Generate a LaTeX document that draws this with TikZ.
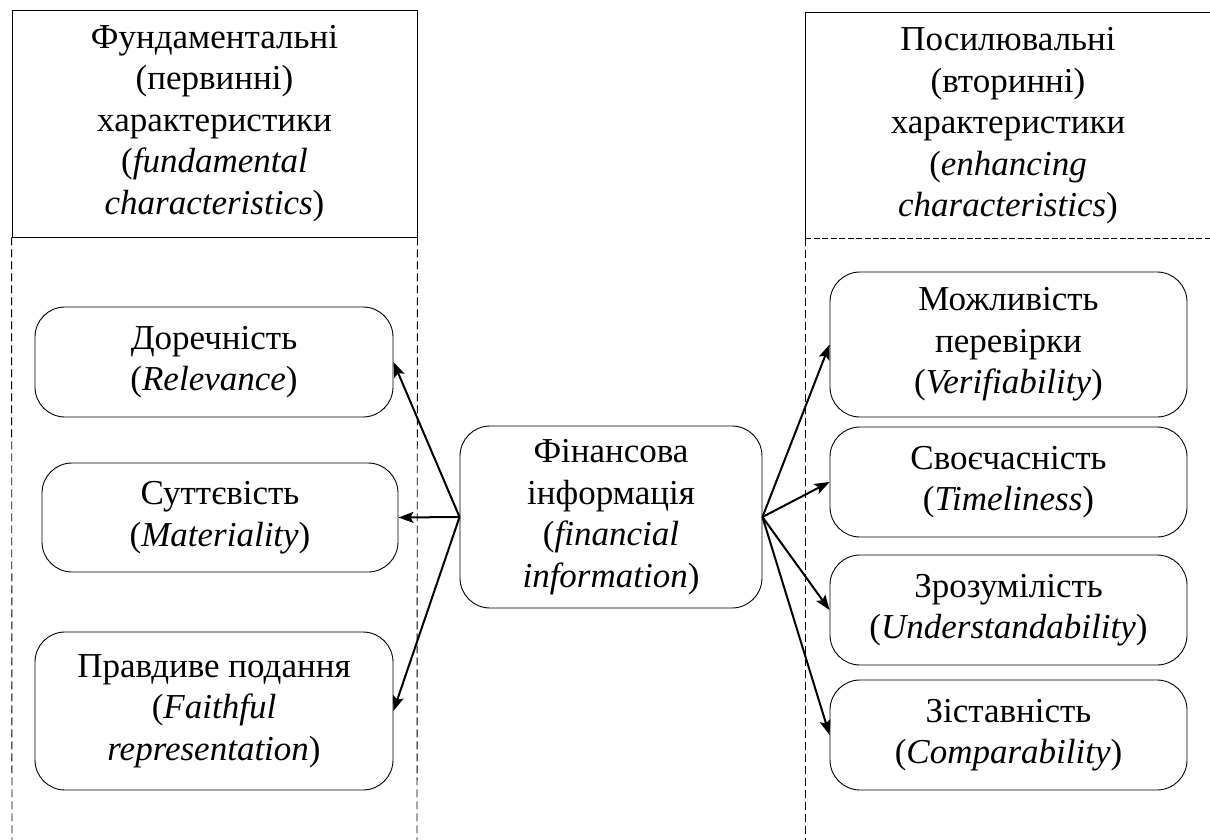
\documentclass[tikz,border=0pt]{standalone}
\usepackage{fontspec}
\setmainfont{Liberation Serif}
\usetikzlibrary{arrows.meta}
\begin{document}
\begin{tikzpicture}[x=1pt,y=-1pt,
  every node/.style={font=\fontsize{35}{41.5}\selectfont, align=center, inner sep=0pt},
  card/.style={draw, line width=0.9pt, rounded corners=30pt, minimum width=357pt},
  frame/.style={line width=0.9pt},
  guide/.style={line width=0.9pt, dash pattern=on 8pt off 4pt},
  fineguide/.style={line width=0.9pt, dash pattern=on 6pt off 2.5pt},
  link/.style={line width=2pt, -{Stealth[length=15pt,width=11pt,inset=3pt]}}]
\useasboundingbox (0,0) rectangle (1210,840);

% left column: heading frame and dashed guides
\node[draw, frame, minimum width=405pt, minimum height=227pt] (fund) at (214.5,123.5)
  {Фундаментальні\\(первинні)\\характеристики\\(\textit{fundamental}\\\textit{characteristics})};
\coordinate (lbl) at (12,840);
\coordinate (lbr) at (417,840);
\draw[guide] (fund.south west) -- (lbl);
\draw[guide] (fund.south east) -- (lbr);

% right column: open heading frame and dashed guide
\coordinate (rtl) at (805,12);
\coordinate (rtr) at (1210,12);
\coordinate (rbl) at (805,238);
\coordinate (rbr) at (1210,238);
\coordinate (rend) at (805,840);
\draw[frame] (rtr) -- (rtl) -- (rbl);
\draw[fineguide] (rbl) -- (rbr);
\draw[guide] (rbl) -- (rend);
\node (enh) at (1008,126)
  {Посилювальні\\(вторинні)\\характеристики\\(\textit{enhancing}\\\textit{characteristics})};

% fundamental characteristics
\node[card, minimum width=358pt, minimum height=110pt] (dor) at (214,362)
  {Доречність\\(\textit{Relevance})};
\node[card, minimum width=356pt, minimum height=109pt] (sut) at (220,517.5)
  {Суттєвість\\(\textit{Materiality})};
\node[card, minimum width=358pt, minimum height=158pt] (prav) at (214,711)
  {Правдиве подання\\(\textit{Faithful}\\\textit{representation})};

% central node
\node[card, minimum width=302pt, minimum height=182pt] (fin) at (611,517)
  {Фінансова\\інформація\\(\textit{financial}\\\textit{information})};

% enhancing characteristics
\node[card, minimum height=145pt] (ver) at (1008.5,344.5)
  {Можливість\\перевірки\\(\textit{Verifiability})};
\node[card, minimum height=110pt] (tim) at (1008.5,482)
  {Своєчасність\\(\textit{Timeliness})};
\node[card, minimum height=110pt] (und) at (1008.5,610)
  {Зрозумілість\\(\textit{Understandability})};
\node[card, minimum height=110pt] (com) at (1008.5,735)
  {Зіставність\\(\textit{Comparability})};

% connectors
\draw[link] (fin.west) -- (dor.east);
\draw[link] (fin.west) -- (sut.east);
\draw[link] (fin.west) -- (prav.east);
\draw[link] (fin.east) -- (ver.west);
\draw[link] (fin.east) -- (tim.west);
\draw[link] (fin.east) -- (und.west);
\draw[link] (fin.east) -- (com.west);
\end{tikzpicture}
\end{document}
